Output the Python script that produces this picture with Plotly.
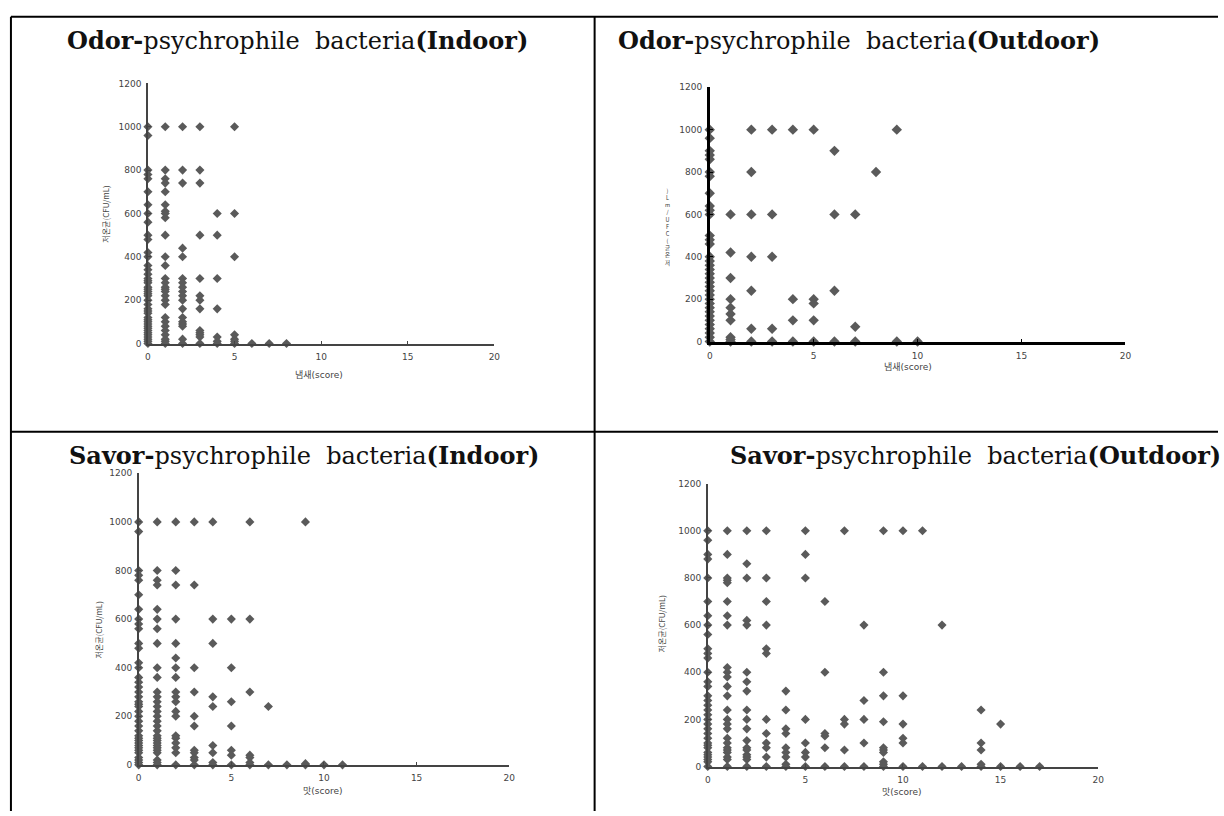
import plotly.graph_objects as go

W, H = 1224, 816

# ---- data: score -> bacteria counts (CFU/mL) ----
odor_indoor = {
    0: [1000, 960, 800, 780, 760, 700, 640, 600, 560, 500, 480, 420, 400, 360, 340, 320, 300, 290, 280, 260, 250,
        240, 230, 220, 200, 180, 160, 150, 140, 120, 110, 100, 90, 80, 70, 60, 50, 40, 30, 20, 10, 0],
    1: [1000, 800, 760, 740, 700, 640, 610, 600, 580, 500, 400, 360, 300, 280, 260, 250, 240, 220, 200, 180, 120,
        100, 80, 60, 40, 20, 10, 0],
    2: [1000, 800, 740, 440, 400, 300, 280, 260, 240, 220, 200, 160, 120, 100, 90, 80, 20, 0],
    3: [1000, 800, 740, 500, 300, 220, 200, 160, 60, 50, 40, 30, 0],
    4: [600, 500, 300, 160, 30, 10, 0],
    5: [1000, 600, 400, 40, 20, 10, 0],
    6: [0], 7: [0], 8: [0],
}
odor_outdoor = {
    0: [1000, 960, 900, 880, 860, 800, 780, 700, 640, 620, 600, 500, 480, 460, 400, 380, 360, 340, 320, 300, 280,
        260, 240, 220, 200, 180, 160, 140, 120, 100, 80, 60, 40, 20, 0],
    1: [600, 420, 300, 200, 160, 130, 100, 20, 10, 0],
    2: [1000, 800, 600, 400, 240, 60, 0],
    3: [1000, 600, 400, 60, 0],
    4: [1000, 200, 100, 0],
    5: [1000, 200, 180, 100, 0],
    6: [900, 600, 240, 0],
    7: [600, 70, 0],
    8: [800],
    9: [1000, 0],
    10: [0],
}
savor_indoor = {
    0: [1000, 960, 800, 780, 760, 700, 640, 600, 580, 560, 500, 480, 420, 400, 360, 340, 320, 300, 280, 260, 250,
        240, 220, 200, 180, 160, 140, 120, 110, 100, 90, 80, 70, 60, 50, 30, 20, 10, 0],
    1: [1000, 800, 760, 740, 640, 600, 560, 500, 400, 360, 300, 280, 260, 240, 220, 200, 180, 160, 140, 120, 110,
        100, 90, 80, 70, 60, 50, 20, 10, 0],
    2: [1000, 800, 740, 600, 500, 440, 400, 360, 300, 280, 260, 220, 200, 120, 110, 90, 70, 50, 0],
    3: [1000, 740, 400, 300, 200, 160, 60, 50, 30, 20, 0],
    4: [1000, 600, 500, 280, 240, 80, 50, 10, 0],
    5: [600, 400, 260, 160, 60, 40, 0],
    6: [1000, 600, 300, 40, 30, 10, 0],
    7: [240, 0],
    8: [0],
    9: [1000, 5, 0],
    10: [0],
    11: [0],
}
savor_outdoor = {
    0: [1000, 960, 900, 880, 800, 700, 640, 600, 560, 500, 480, 460, 400, 360, 340, 300, 280, 260, 240, 220, 200,
        180, 160, 140, 120, 100, 90, 80, 60, 50, 40, 30, 20, 0],
    1: [1000, 900, 800, 790, 780, 700, 640, 600, 420, 400, 380, 340, 300, 240, 200, 180, 160, 120, 100, 80, 70,
        60, 40, 30, 0],
    2: [1000, 860, 800, 620, 600, 400, 360, 320, 240, 200, 160, 110, 80, 70, 50, 40, 30, 0],
    3: [1000, 800, 700, 600, 500, 480, 200, 140, 100, 80, 40, 0],
    4: [320, 240, 160, 140, 80, 60, 40, 10, 0],
    5: [1000, 900, 800, 200, 100, 60, 40, 0],
    6: [700, 400, 140, 130, 80, 0],
    7: [1000, 200, 180, 70, 0],
    8: [600, 280, 200, 100, 0],
    9: [1000, 400, 300, 190, 80, 70, 60, 20, 10, 0],
    10: [1000, 300, 180, 120, 100, 0],
    11: [1000, 0],
    12: [600, 0],
    13: [0],
    14: [240, 100, 70, 10, 0],
    15: [180, 0],
    16: [0],
    17: [0],
}

x_ticks = [0, 5, 10, 15, 20]
y_ticks = [0, 200, 400, 600, 800, 1000, 1200]
y_title = "저온균(CFU/mL)"
x_title_odor = "냄새(score)"
x_title_savor = "맛(score)"
titles = [
    "<b>Odor-</b>psychrophile  bacteria<b>(Indoor)</b>",
    "<b>Odor-</b>psychrophile  bacteria<b>(Outdoor)</b>",
    "<b>Savor-</b>psychrophile  bacteria<b>(Indoor)</b>",
    "<b>Savor-</b>psychrophile  bacteria<b>(Outdoor)</b>",
]


def flat(d):
    xs, ys = [], []
    for k, vals in d.items():
        for v in vals:
            xs.append(k)
            ys.append(v)
    return xs, ys


def px(x):
    return x / W


def py(y):
    return 1 - y / H


# panel geometry (pixels): x-axis left/right, y of value 0 and value 1200
panels = [
    dict(data=odor_indoor, x0=146, x1=495, y0=342.7, y1=79.4, lc="#444444", lw=1.5, ms=7),
    dict(data=odor_outdoor, x0=712, x1=1130.7, y0=340.7, y1=83.3, lc="#000000", lw=2.5, ms=8),
    dict(data=savor_indoor, x0=136.7, x1=510, y0=769.3, y1=474.1, lc="#444444", lw=1.5, ms=7),
    dict(data=savor_outdoor, x0=710, x1=1103.3, y0=771, y1=484.6, lc="#444444", lw=1.5, ms=7),
]

fig = go.Figure()
layout = dict(
    width=W, height=H, margin=dict(l=0, r=0, t=0, b=0),
    paper_bgcolor="white", plot_bgcolor="white", showlegend=False,
)
tickfont = dict(family="DejaVu Sans", size=9, color="#444444")
for i, p in enumerate(panels):
    n = "" if i == 0 else str(i + 1)
    xs, ys = flat(p["data"])
    fig.add_trace(go.Scatter(
        x=xs, y=ys, mode="markers", xaxis="x" + n, yaxis="y" + n, cliponaxis=False,
        marker=dict(symbol="diamond", size=p["ms"], color="#5a5a5a", line=dict(width=0)),
        hoverinfo="x+y",
    ))
    layout["xaxis" + n] = dict(
        domain=[px(p["x0"]), px(p["x1"])], range=[0, 20], anchor="y" + n,
        showgrid=False, zeroline=False, showline=True, linecolor=p["lc"], linewidth=p["lw"],
        ticks="inside", ticklen=3, tickcolor=p["lc"], tickvals=x_ticks, tickfont=tickfont,
        ticklabelstandoff=4, fixedrange=True,
    )
    layout["yaxis" + n] = dict(
        domain=[py(p["y0"]), py(p["y1"])], range=[0, 1200], anchor="x" + n,
        showgrid=False, zeroline=False, showline=True, linecolor=p["lc"], linewidth=p["lw"],
        ticks="inside", ticklen=3, tickcolor=p["lc"], tickvals=y_ticks, tickfont=tickfont,
        ticklabelstandoff=3, fixedrange=True,
    )

fig.update_layout(**layout)

ann = []
# titles
title_pos = [(297, 36, "center"), (618, 36, "left"), (303, 456, "center"), (1229, 456, "right")]
for t, (x, y, al) in zip(titles, title_pos):
    ann.append(dict(
        text=t, x=px(x), y=py(y), xref="paper", yref="paper", xanchor=al, yanchor="middle",
        showarrow=False, font=dict(family="DejaVu Serif", size=24, color="#111111"),
    ))
# x titles
for t, x, y in [(x_title_odor, 318, 375), (x_title_odor, 912, 366), (x_title_savor, 322, 796), (x_title_savor, 906, 797)]:
    ann.append(dict(
        text=t, x=px(x), y=py(y), xref="paper", yref="paper", xanchor="center", yanchor="middle",
        showarrow=False, font=dict(family="DejaVu Sans, Noto Sans CJK KR", size=9, color="#444444"),
    ))
# y titles (rotated)
for x, y in [(103, 212), (96, 633), (663, 627)]:
    ann.append(dict(
        text=y_title, x=px(x), y=py(y), xref="paper", yref="paper", xanchor="center", yanchor="middle",
        textangle=-90, showarrow=False, font=dict(family="Noto Sans CJK KR", size=8, color="#444444"),
    ))
# garbled stacked y title of the outdoor odor panel
ann.append(dict(
    text="<br>".join(reversed(y_title)), x=px(669), y=py(182), xref="paper", yref="paper",
    xanchor="center", yanchor="top", align="center", showarrow=False,
    font=dict(family="Noto Sans CJK KR", size=5.5, color="#333333"),
))

# table border lines
lines = [
    (8, 12, 1224, 12), (8, 12, 8, 816), (596, 12, 596, 816), (8, 432, 1224, 432),
]
shapes = [dict(type="line", xref="paper", yref="paper", x0=px(a), y0=py(b), x1=px(c), y1=py(d),
               line=dict(color="black", width=2)) for a, b, c, d in lines]

fig.update_layout(annotations=ann, shapes=shapes)
fig.write_html("out.html")
